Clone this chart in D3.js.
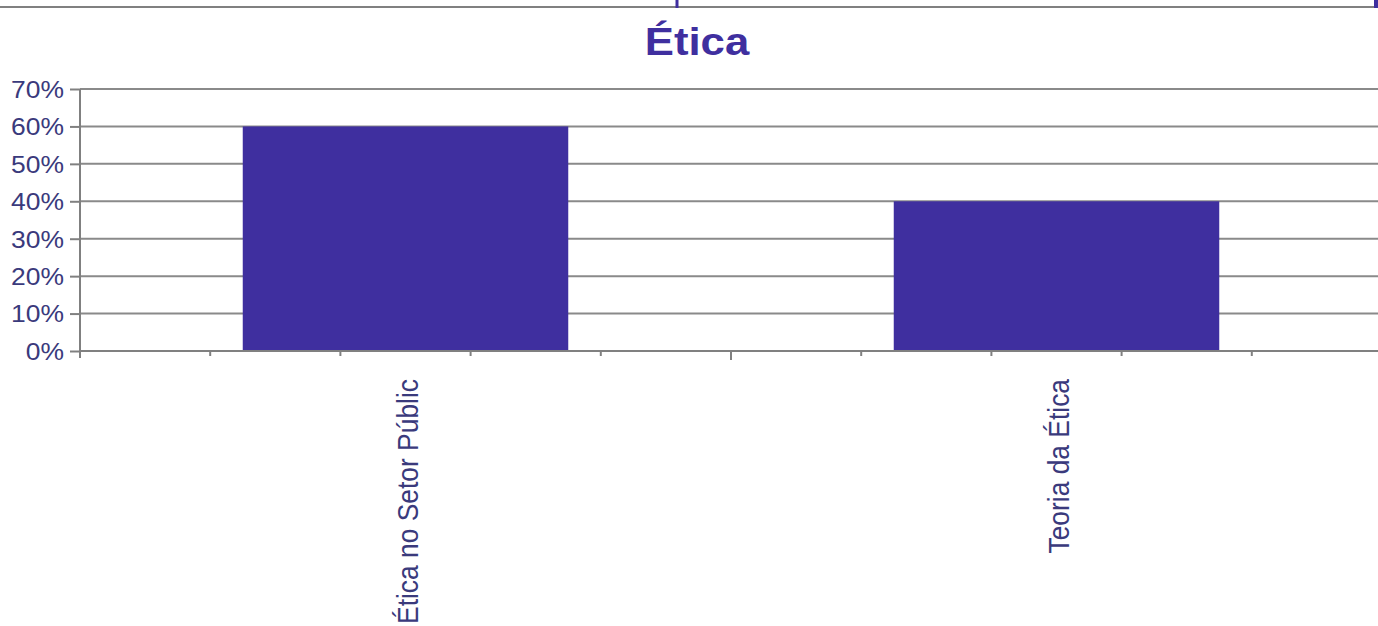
<!DOCTYPE html>
<html>
<head>
<meta charset="utf-8">
<script src="https://cdn.jsdelivr.net/npm/d3@7"></script>
<style>
  body { margin: 0; background: #fff; }
  svg { display: block; font-family: "Liberation Sans", Arial, sans-serif; }
</style>
</head>
<body>
<div id="chart"></div>
<script>
// chart data
var categories = ['Ética no Setor Públic', 'Teoria da Ética'];
var values = [0.60, 0.40];
var yTicks = [0, 0.1, 0.2, 0.3, 0.4, 0.5, 0.6, 0.7];
var title = 'Ética';

var W = 1378, H = 626;
var margin = {top: 89, right: -4, bottom: 275, left: 80};
var width = W - margin.left - margin.right,
    height = H - margin.top - margin.bottom;

var barColor = '#3f2f9f';
var textColor = '#3a3a7c';
var stretch = 1.15; // the picture is a little wider than tall

var svg = d3.select('#chart').append('svg')
  .attr('width', W)
  .attr('height', H);

// frame remnants at top
svg.append('line')
  .attr('x1', 0).attr('x2', W).attr('y1', 7).attr('y2', 7)
  .attr('stroke', '#808080').attr('stroke-width', 2);
svg.append('line')
  .attr('x1', 677).attr('x2', 677).attr('y1', 0).attr('y2', 8)
  .attr('stroke', barColor).attr('stroke-width', 3);
svg.append('line')
  .attr('x1', 1376).attr('x2', 1376).attr('y1', 0).attr('y2', 8)
  .attr('stroke', barColor).attr('stroke-width', 4);

// title
svg.append('text')
  .attr('transform', 'translate(697,55) scale(' + stretch + ',1)')
  .attr('text-anchor', 'middle')
  .style('font-size', '38px')
  .style('font-weight', 'bold')
  .attr('fill', barColor)
  .text(title);

var g = svg.append('g')
  .attr('transform', 'translate(' + margin.left + ',' + margin.top + ')');

var x = d3.scaleBand()
  .domain(categories)
  .range([0, width])
  .paddingInner(0)
  .paddingOuter(0);

var y = d3.scaleLinear()
  .domain([0, 0.7])
  .range([height, 0]);

// gridlines
g.selectAll('.grid')
  .data(yTicks.filter(function(d) { return d > 0; }))
  .enter().append('line')
  .attr('class', 'grid')
  .attr('x1', 0).attr('x2', width)
  .attr('y1', function(d) { return y(d); })
  .attr('y2', function(d) { return y(d); })
  .attr('stroke', '#8a8a8a')
  .attr('stroke-width', 2);

// bars
g.selectAll('.bar')
  .data(values)
  .enter().append('rect')
  .attr('class', 'bar')
  .attr('x', function(d, i) { return x(categories[i]) + x.bandwidth() * 0.25; })
  .attr('width', x.bandwidth() * 0.5)
  .attr('y', function(d) { return y(d); })
  .attr('height', function(d) { return height - y(d); })
  .attr('fill', barColor);

// y axis
var yAxis = g.append('g')
  .call(d3.axisLeft(y).tickValues(yTicks).tickFormat(d3.format('.0%')).tickSize(10).tickPadding(6));
yAxis.select('.domain').remove();
yAxis.append('line')
  .attr('x1', 0).attr('x2', 0).attr('y1', 0).attr('y2', height + 7)
  .attr('stroke', '#808080').attr('stroke-width', 2);
yAxis.selectAll('.tick line').attr('stroke', '#808080').attr('stroke-width', 2);
yAxis.selectAll('.tick text')
  .attr('x', null)
  .attr('transform', 'translate(-16,0) scale(' + stretch + ',1)')
  .attr('fill', textColor)
  .style('font-size', '23px')
  .attr('dy', '0.36em');

// x axis baseline + ticks (minor ticks at fifths of each category)
g.append('line')
  .attr('x1', 0).attr('x2', width).attr('y1', height).attr('y2', height)
  .attr('stroke', '#808080').attr('stroke-width', 2);

var tickPos = [];
categories.forEach(function(c) {
  for (var k = 1; k < 5; k++) tickPos.push({x: x(c) + x.bandwidth() * k / 5, major: false});
  tickPos.push({x: x(c) + x.bandwidth(), major: true});
});
g.selectAll('.xtick')
  .data(tickPos)
  .enter().append('line')
  .attr('class', 'xtick')
  .attr('x1', function(d) { return d.x; })
  .attr('x2', function(d) { return d.x; })
  .attr('y1', height)
  .attr('y2', function(d) { return height + (d.major ? 9 : 5); })
  .attr('stroke', '#808080')
  .attr('stroke-width', 2);

// category labels, rotated
g.selectAll('.xlabel')
  .data(categories)
  .enter().append('text')
  .attr('class', 'xlabel')
  .attr('transform', function(d) {
    return 'translate(' + (x(d) + x.bandwidth() / 2 + 12) + ',' + (height + 28) + ') scale(' + stretch + ',1) rotate(-90)';
  })
  .attr('text-anchor', 'end')
  .attr('fill', textColor)
  .style('font-size', '26.4px')
  .text(function(d) { return d; });
</script>
</body>
</html>
